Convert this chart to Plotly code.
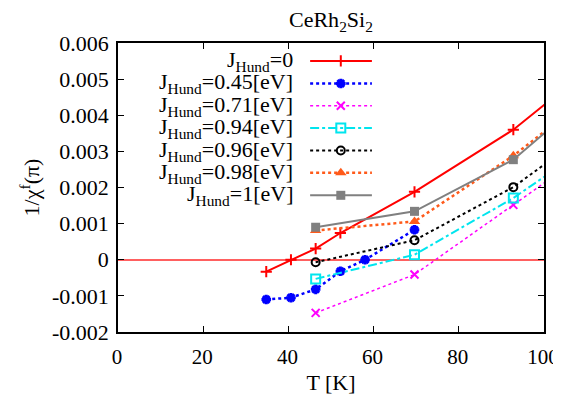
import plotly.graph_objects as go

# ---- data ----
T_red = [34.8, 40.6, 46.4, 52.2, 69.6, 92.8, 116.0]
chi_red = [-0.00033, 0.0, 0.00031, 0.00074, 0.00188, 0.0036, 0.0058]

T_blue = [34.8, 40.6, 46.4, 52.2, 58.0, 69.6]
chi_blue = [-0.0011, -0.00105, -0.00082, -0.00032, 0.0, 0.00083]

T_mag = [46.4, 69.6, 92.8, 116.0]
chi_mag = [-0.00147, -0.00041, 0.00152, 0.00345]

T_cyan = [46.4, 69.6, 92.8, 116.0]
chi_cyan = [-0.00053, 0.00014, 0.00171, 0.00358]

T_black = [46.4, 69.6, 92.8, 116.0]
chi_black = [-0.00007, 0.00054, 0.00201, 0.00401]

T_orange = [46.4, 69.6, 92.8, 116.0]
chi_orange = [0.00081, 0.00106, 0.00288, 0.0050]

T_gray = [46.4, 69.6, 92.8, 116.0]
chi_gray = [0.0009, 0.00134, 0.00277, 0.0051]

labels = ["J<sub>Hund</sub>=0", "J<sub>Hund</sub>=0.45[eV]", "J<sub>Hund</sub>=0.71[eV]",
          "J<sub>Hund</sub>=0.94[eV]", "J<sub>Hund</sub>=0.96[eV]", "J<sub>Hund</sub>=0.98[eV]",
          "J<sub>Hund</sub>=1[eV]"]

x_ticks = [0, 20, 40, 60, 80, 100]
y_ticks = [-0.002, -0.001, 0, 0.001, 0.002, 0.003, 0.004, 0.005, 0.006]
y_ticktext = ["-0.002", "-0.001", "0", "0.001", "0.002", "0.003", "0.004", "0.005", "0.006"]

# ---- styles ----
styles = [
    dict(color="#ff0000", dash="solid", lw=2, sym="cross-thin-open", ms=8, mlw=2),
    dict(color="#0000ff", dash="dot", lw=2.5, sym="asterisk-open", ms=8, mlw=3),
    dict(color="#ff00ff", dash="dot", lw=1.5, sym="x-thin-open", ms=8, mlw=2),
    dict(color="#00e5ee", dash="dashdot", lw=2, sym="square-open", ms=9, mlw=2),
    dict(color="#000000", dash="dot", lw=2, sym="circle-open", ms=8, mlw=2),
    dict(color="#ff5a1a", dash="dot", lw=2.5, sym="triangle-up", ms=10, mlw=0),
    dict(color="#808080", dash="solid", lw=2, sym="square", ms=9, mlw=0),
]
series = [(T_red, chi_red), (T_blue, chi_blue), (T_mag, chi_mag), (T_cyan, chi_cyan),
          (T_black, chi_black), (T_orange, chi_orange), (T_gray, chi_gray)]

FONT = "Times New Roman, Liberation Serif, serif"
FS = 22

fig = go.Figure()
for (xs, ys), st in zip(series, styles):
    fig.add_trace(go.Scatter(
        x=xs, y=ys, mode="lines+markers", showlegend=False, cliponaxis=True,
        line=dict(color=st["color"], dash=st["dash"], width=st["lw"]),
        marker=dict(symbol=st["sym"], size=st["ms"], color=st["color"],
                    line=dict(color=st["color"], width=st["mlw"]))))

# ---- manual gnuplot-style legend (text left, sample right) ----
row_y = [0.938, 0.860, 0.783, 0.706, 0.628, 0.551, 0.473]
for lab, st, yy in zip(labels, styles, row_y):
    fig.add_trace(go.Scatter(
        x=[0.451, 0.596], y=[yy, yy], mode="lines", xaxis="x2", yaxis="y2", showlegend=False,
        line=dict(color=st["color"], dash=st["dash"], width=st["lw"])))
    fig.add_trace(go.Scatter(
        x=[0.523], y=[yy], mode="markers", xaxis="x2", yaxis="y2", showlegend=False,
        marker=dict(symbol=st["sym"], size=st["ms"], color=st["color"],
                    line=dict(color=st["color"], width=st["mlw"]))))
    fig.add_annotation(x=0.415, y=yy, xref="x2", yref="y2", text=lab, showarrow=False,
                       xanchor="right", yanchor="middle",
                       font=dict(family=FONT, size=FS, color="black"))

axis_common = dict(showgrid=False, ticks="inside", ticklen=6, tickwidth=1, tickcolor="black",
                   mirror="ticks", showline=True, linecolor="black", linewidth=1.5,
                   automargin=False)

# the page body adds an 8px margin, so the figure is sized to fit the window
fig.update_layout(
    width=553, height=387,
    margin=dict(l=110, r=17, t=35, b=63),
    paper_bgcolor="white", plot_bgcolor="white",
    title=dict(text="CeRh<sub>2</sub>Si<sub>2</sub>", x=0.584, xanchor="center", y=0.97, yanchor="middle",
               font=dict(family=FONT, size=FS, color="black")),
    xaxis=dict(range=[0, 100], tickvals=x_ticks, zeroline=False, ticklabelstandoff=5,
               ticklabelshift=-1,
               tickfont=dict(family=FONT, size=21, color="black"),
               title=dict(text="T [K]", font=dict(family=FONT, size=FS, color="black"), standoff=11),
               **axis_common),
    yaxis=dict(range=[-0.002, 0.006], tickvals=y_ticks, ticktext=y_ticktext,
               zeroline=True, zerolinecolor="#ff6060", zerolinewidth=1.5,
               ticklabelstandoff=3,
               tickfont=dict(family=FONT, size=FS, color="black"),
               title=dict(text="1/χ<sup>f</sup>(π)", font=dict(family=FONT, size=FS, color="black"), standoff=6),
               **axis_common),
    xaxis2=dict(range=[0, 1], overlaying="x", visible=False, fixedrange=True),
    yaxis2=dict(range=[0, 1], overlaying="y", visible=False, fixedrange=True),
)

fig.write_html("out.html")
